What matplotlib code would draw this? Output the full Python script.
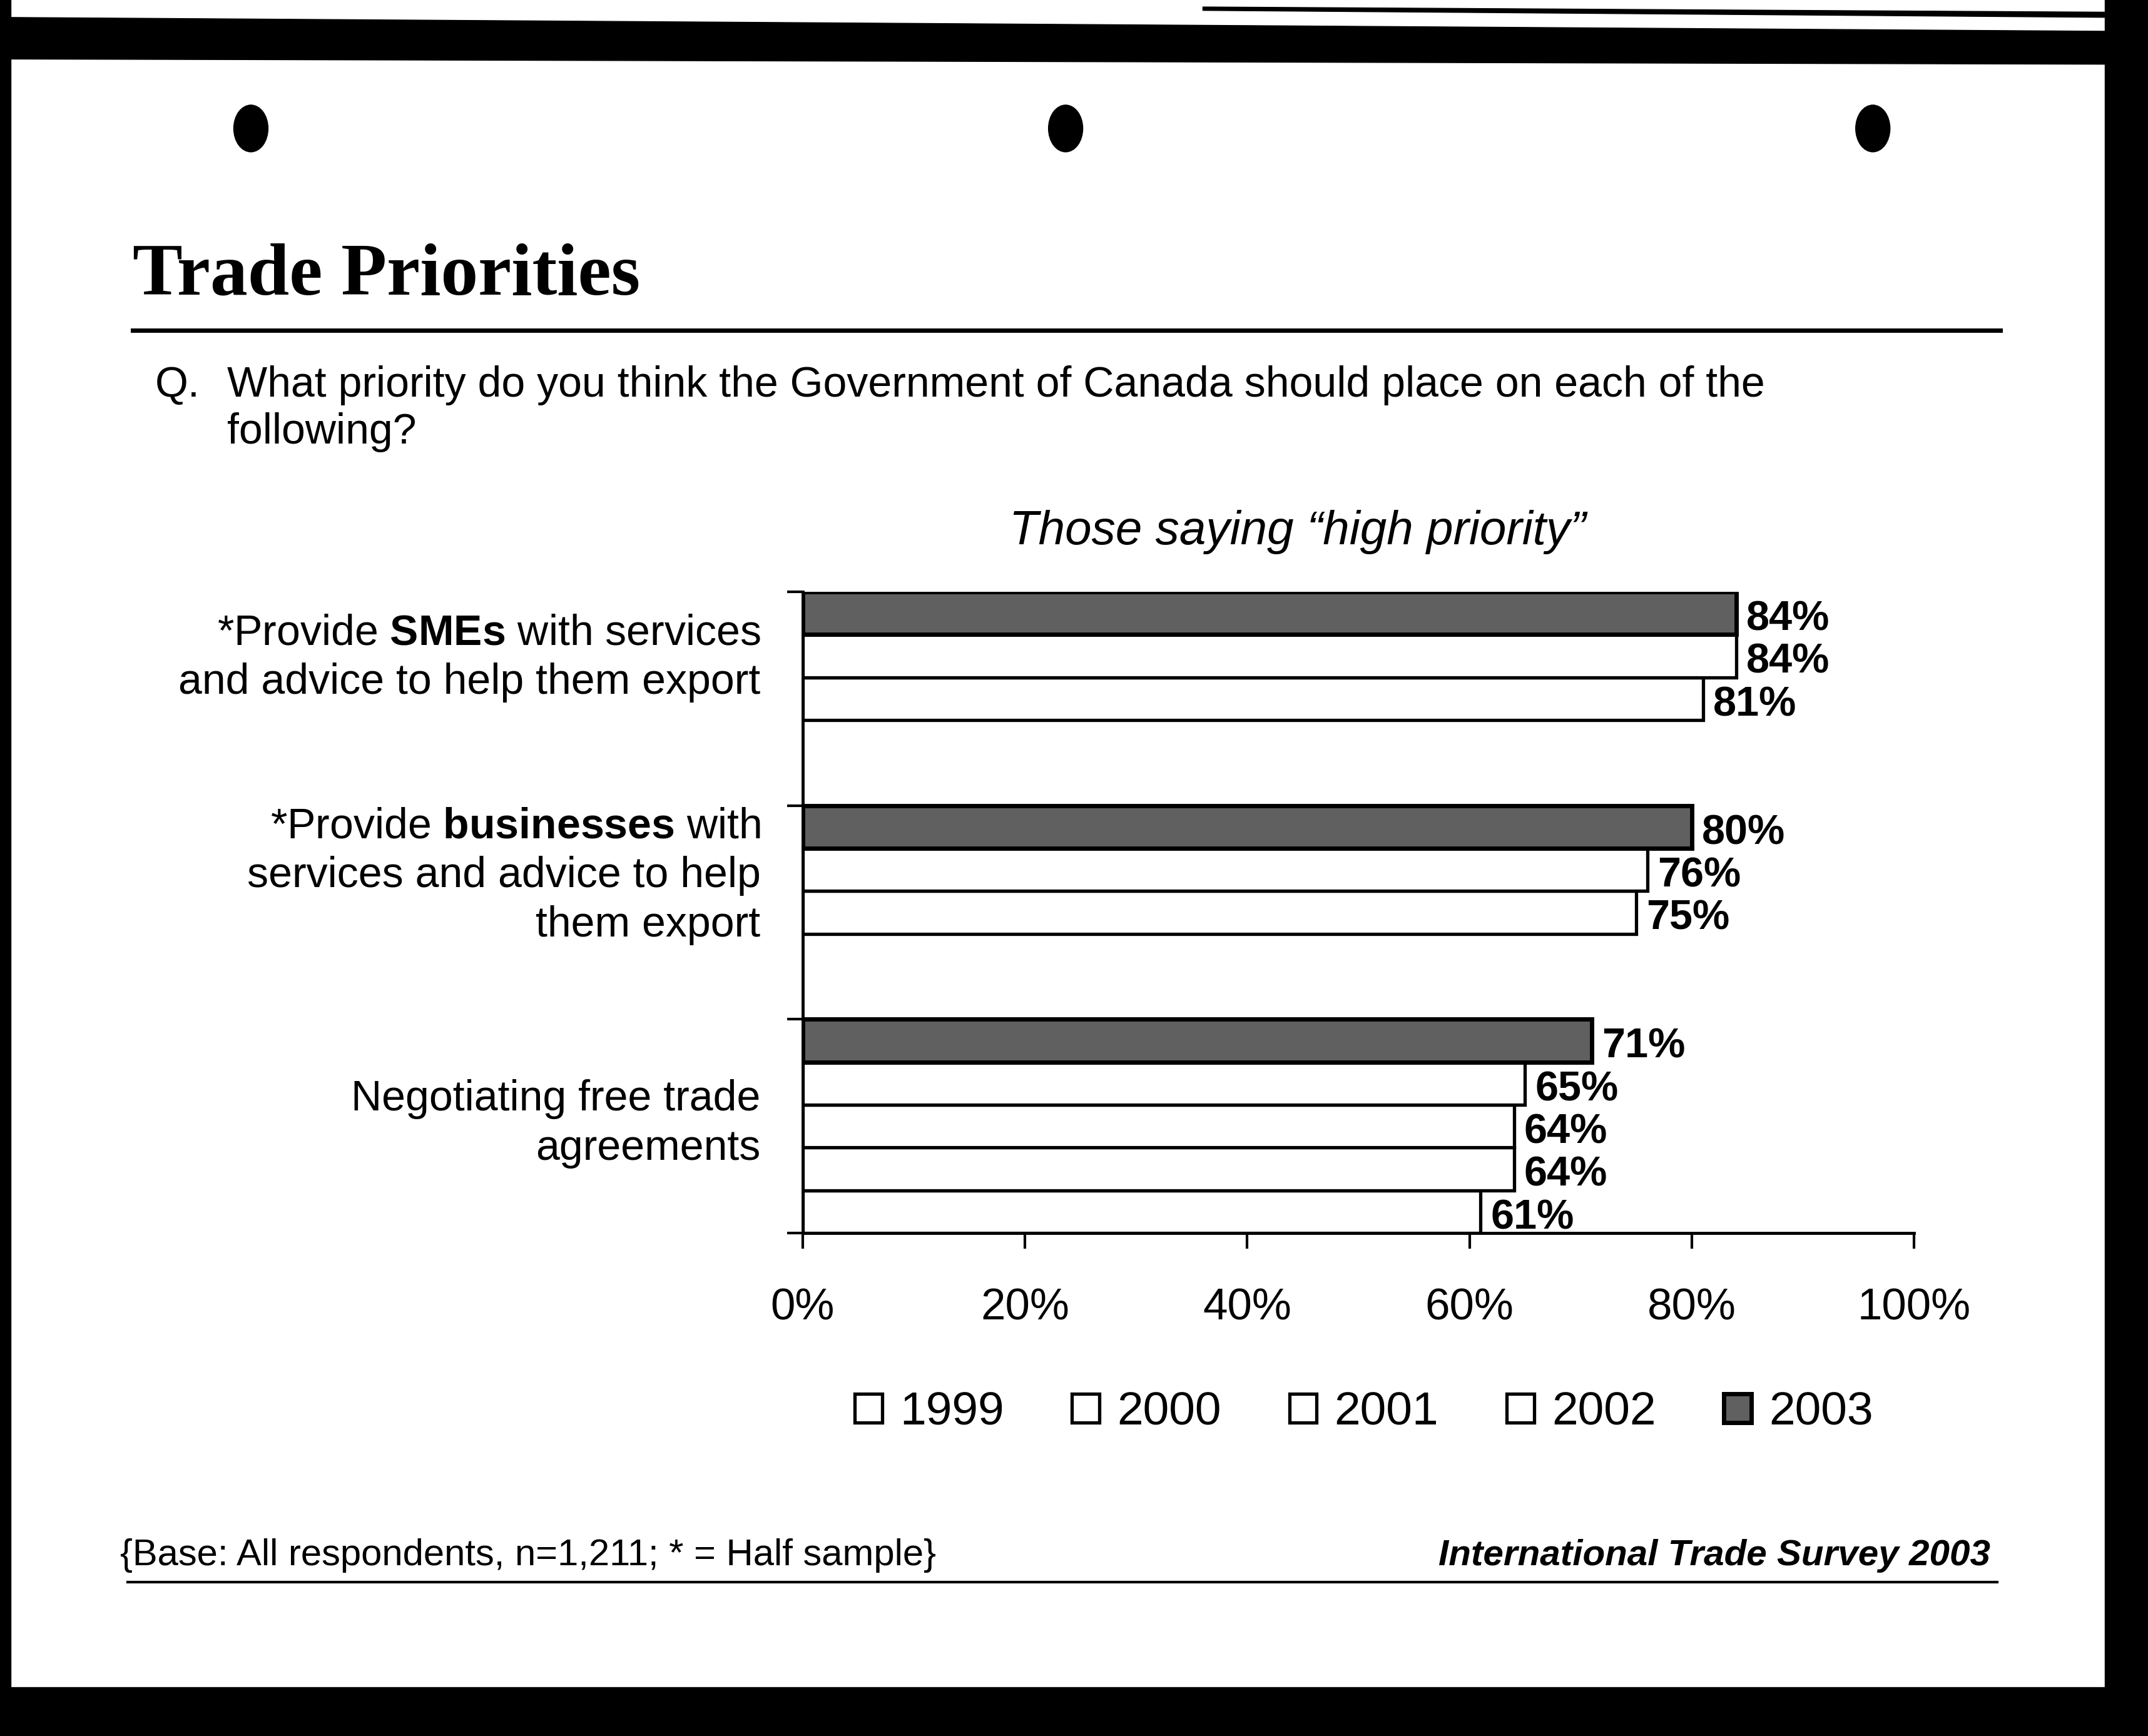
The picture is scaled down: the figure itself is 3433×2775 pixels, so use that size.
import numpy as np
import matplotlib.pyplot as plt
from matplotlib.patches import Polygon, Ellipse

# data (percent saying "high priority")
categories = ['*Provide $\\mathbf{SMEs}$ with services\nand advice to help them export',
              '*Provide $\\mathbf{businesses}$ with\nservices and advice to help\nthem export',
              'Negotiating free trade\nagreements']
years = ['1999', '2000', '2001', '2002', '2003']
v1999 = [np.nan, np.nan, 61]
v2000 = [np.nan, np.nan, 64]
v2001 = [81, 75, 64]
v2002 = [84, 76, 65]
v2003 = [84, 80, 71]
series = [v1999, v2000, v2001, v2002, v2003]
xticks = [0, 20, 40, 60, 80, 100]

plt.rcParams['font.family'] = ['Liberation Sans', 'DejaVu Sans']
plt.rcParams['mathtext.fontset'] = 'custom'
plt.rcParams['mathtext.rm'] = 'Liberation Sans'
plt.rcParams['mathtext.bf'] = 'Liberation Sans:bold'

fig = plt.figure(figsize=(34.33, 27.75), dpi=100)
fig.patch.set_facecolor('white')

ax = fig.add_axes([0.3737, 0.2897, 0.5174, 0.3694])

n = len(years)
slot = 1.0 / n
handles = []
for k, (yr, vals) in enumerate(zip(years, series)):
    vals = np.array(vals, dtype=float)
    ok = ~np.isnan(vals)
    ypos = np.arange(len(categories))[ok] + (n - 1 - k) * slot + slot / 2
    if yr == '2003':
        fc = '#606060'
        lw = 5
    else:
        fc = 'white'
        lw = 3.8
    b = ax.barh(ypos, vals[ok], height=slot, color=fc, edgecolor='black',
                linewidth=lw, label=yr)
    handles.append(b)
    for y, v in zip(ypos, vals[ok]):
        ax.text(v + 0.9, y + 0.03, '%d%%' % v, ha='left', va='center',
                fontsize=48, fontweight='bold')

ax.set_xlim(0, 100)
ax.set_ylim(3, 0)
ax.set_xticks(xticks)
ax.set_xticklabels(['%d%%' % t for t in xticks])
ax.set_yticks([0, 1, 2, 3])
ax.set_yticklabels([])
ax.tick_params(axis='x', direction='out', length=18, width=3, labelsize=51, pad=45)
ax.tick_params(axis='y', direction='out', length=18, width=3)
for s in ['top', 'right']:
    ax.spines[s].set_visible(False)
for s in ['left', 'bottom']:
    ax.spines[s].set_linewidth(3.5)

# category labels left of the axis
label_y = [0.31, 1.33, 2.49]
for lab, y in zip(categories, label_y):
    ax.text(-0.038, y, lab, transform=ax.get_yaxis_transform(), ha='right',
            va='center', multialignment='right', fontsize=49, linespacing=1.3)

ax.text(0.445, 1.093, 'Those saying \u201chigh priority\u201d', transform=ax.transAxes,
        ha='center', va='center', fontsize=55, style='italic')

leg = fig.legend(handles=handles, labels=years, loc='center', ncol=5,
                 bbox_to_anchor=(0.635, 0.1863), frameon=False, fontsize=54,
                 handlelength=0.58, handleheight=0.58, handletextpad=0.38,
                 columnspacing=1.45)

# page text
fig.text(0.0618, 0.8303, 'Trade Priorities', family='Liberation Serif',
         fontweight='bold', fontsize=86, va='baseline')
fig.add_artist(plt.Line2D([0.0618, 0.9313], [0.8097, 0.8097], color='black', lw=5))
fig.text(0.0721, 0.7715, 'Q.', fontsize=49, va='baseline')
fig.text(0.1058, 0.7715, 'What priority do you think the Government of Canada should place on each of the',
         fontsize=49, va='baseline')
fig.text(0.1058, 0.7445, 'following?', fontsize=49, va='baseline')

fig.text(0.0559, 0.0985, '{Base: All respondents, n=1,211; * = Half sample}',
         fontsize=43, va='baseline')
fig.text(0.9267, 0.0985, 'International Trade Survey 2003', fontsize=42,
         fontweight='bold', style='italic', ha='right', va='baseline')
fig.add_artist(plt.Line2D([0.0593, 0.9299], [0.0887, 0.0887], color='black', lw=3))

# scanned page border and punch holes
fig.add_artist(Polygon([[0, 0.990], [0.98, 0.982], [0.98, 0.963], [0, 0.966]],
                       closed=True, color='black', transform=fig.transFigure))
fig.add_artist(Polygon([[0.56, 0.996], [0.98, 0.993], [0.98, 0.990], [0.56, 0.994]],
                       closed=True, color='black', transform=fig.transFigure))
fig.add_artist(Polygon([[0.98, 0], [1, 0], [1, 1], [0.98, 1]], closed=True,
                       color='black', transform=fig.transFigure))
fig.add_artist(Polygon([[0, 0], [1, 0], [1, 0.028], [0, 0.028]], closed=True,
                       color='black', transform=fig.transFigure))
fig.add_artist(Polygon([[0, 0], [0.005, 0], [0.005, 1], [0, 1]], closed=True,
                       color='black', transform=fig.transFigure))
for cx in [0.1168, 0.4961, 0.8719]:
    fig.add_artist(Ellipse((cx, 0.926), 0.016, 0.027, color='black',
                           transform=fig.transFigure))

fig.savefig('out.png', dpi=100, facecolor='white')
